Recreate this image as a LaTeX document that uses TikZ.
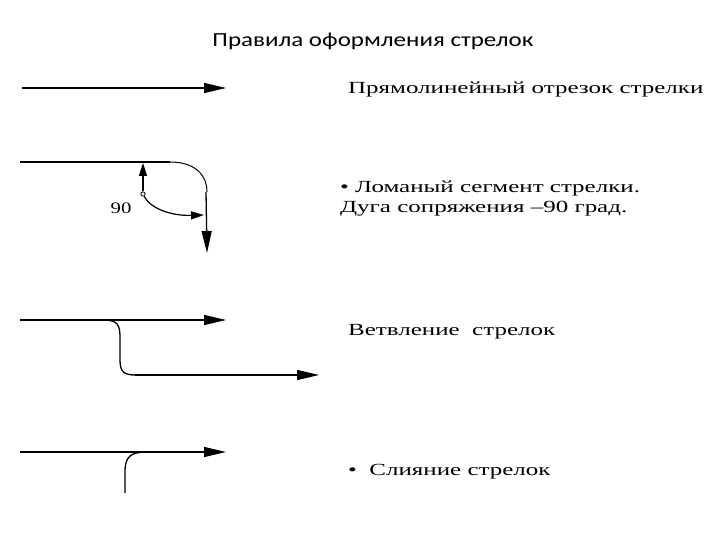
\documentclass[tikz,border=0pt]{standalone}
\usepackage{fontspec}
\setmainfont{Liberation Serif}
\newfontfamily\titlefont{Carlito}
\usetikzlibrary{arrows.meta}
\begin{document}
\begin{tikzpicture}[x=1pt,y=-1pt,
  ln/.style={line width=1.3pt},
  big/.style={-{Triangle[length=22pt,width=10pt]}},
  small/.style={-{Triangle[length=13pt,width=8pt]}},
  lbl/.style={anchor=west,xscale=1.47,font=\fontsize{17}{20}\selectfont}]
\useasboundingbox (0,0) rectangle (720,540);
\node[xscale=1.25,font=\titlefont\fontsize{20}{24}\selectfont] (title) at (373,41) {Правила оформления стрелок};
% row 1
\coordinate (a1) at (22,88); \coordinate (b1) at (226,88);
\draw[ln,big] (a1) -- (b1);
\node[lbl] (t1) at (343,89) {Прямолинейный отрезок стрелки};
% row 2
\coordinate (a2) at (20,162); \coordinate (c2) at (170,162);
\coordinate (e2) at (207,253);
\draw[ln] (a2) -- (c2);
\draw[line width=1pt] (c2) .. controls (195,162) and (207,175) .. (207,192);
\draw[ln,big] (206,192) -- (e2);
\node[circle,draw,line width=0.8pt,inner sep=1.5pt] (o2) at (143,194) {};
\draw[line width=1.2pt,small] (o2) -- (143,163);
\draw[line width=1.2pt,small] (o2) .. controls (150,208) and (170,216) .. (204,215);
\node[xscale=1.3,font=\fontsize{16}{18}\selectfont] (n90) at (121,208) {90};
\node[lbl,align=left] (t2) at (335,199) {\textbullet\ Ломаный сегмент стрелки.\\Дуга сопряжения –90 град.};
% row 3
\coordinate (a3) at (20,320); \coordinate (b3) at (226,320);
\draw[ln,big] (a3) -- (b3);
\coordinate (e3) at (319,375);
\draw[ln] (103,320) .. controls (118,320) and (120,325) .. (120,338) -- (120,360)
  .. controls (120,372) and (124,375) .. (136,375);
\draw[ln,big] (135,375) -- (e3);
\node[lbl] (t3) at (343,332) {Ветвление\ \ стрелок};
% row 4
\coordinate (a4) at (20,452); \coordinate (b4) at (226,452);
\draw[ln,big] (a4) -- (b4);
\draw[ln] (125,493) -- (125,472) .. controls (125,457) and (130,452) .. (147,452);
\node[lbl] (t4) at (343,472) {\textbullet\ \ Слияние стрелок};
\end{tikzpicture}
\end{document}
